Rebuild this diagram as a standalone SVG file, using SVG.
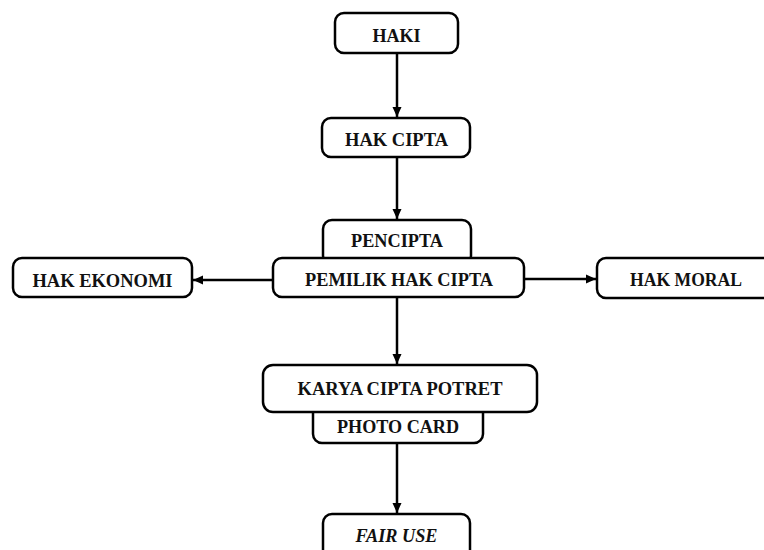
<svg xmlns="http://www.w3.org/2000/svg" width="764" height="550" viewBox="0 0 764 550">
<style>
.box{fill:#fff;stroke:#000;stroke-width:2.5}
.t{font-family:'Liberation Serif',Tinos,'Times New Roman','Noto Serif','DejaVu Serif',serif;font-weight:bold;font-size:18px;text-anchor:middle;fill:#111}
.i{font-style:italic}
.c{stroke:#000;stroke-width:2.5;fill:none}
</style>
<defs>
<marker id="ah" markerUnits="userSpaceOnUse" markerWidth="10" markerHeight="10" viewBox="0 0 10 10" refX="10" refY="5" orient="auto">
<path d="M0,0.5 L10,5 L0,9.5 z" fill="#000"/>
</marker>
</defs>
<rect width="764" height="550" fill="#fff"/>
<g id="connectors">
<line class="c" x1="397" y1="53" x2="397" y2="117" marker-end="url(#ah)"/>
<line class="c" x1="397" y1="157" x2="397" y2="219" marker-end="url(#ah)"/>
<line class="c" x1="397" y1="297" x2="397" y2="364" marker-end="url(#ah)"/>
<line class="c" x1="397" y1="443" x2="397" y2="513" marker-end="url(#ah)"/>
<line class="c" x1="273" y1="280" x2="193" y2="280" marker-end="url(#ah)"/>
<line class="c" x1="524" y1="279" x2="596" y2="279" marker-end="url(#ah)"/>
</g>
<g id="haki">
<rect class="box" x="335" y="13" width="123" height="40" rx="9"/>
<text class="t" x="396.5" y="42" textLength="48" lengthAdjust="spacingAndGlyphs">HAKI</text>
</g>
<g id="hak-cipta">
<rect class="box" x="322" y="118" width="148" height="39" rx="9"/>
<text class="t" x="396.5" y="146" textLength="103" lengthAdjust="spacingAndGlyphs">HAK CIPTA</text>
</g>
<g id="pencipta">
<rect class="box" x="323" y="220" width="148" height="45" rx="9"/>
<text class="t" x="397" y="247" textLength="92" lengthAdjust="spacingAndGlyphs">PENCIPTA</text>
</g>
<g id="pemilik">
<rect class="box" x="273" y="258" width="251" height="39" rx="9"/>
<text class="t" x="399" y="286" textLength="188" lengthAdjust="spacingAndGlyphs">PEMILIK HAK CIPTA</text>
</g>
<g id="hak-ekonomi">
<rect class="box" x="13" y="258" width="179" height="39" rx="9"/>
<text class="t" x="102.5" y="287" textLength="140" lengthAdjust="spacingAndGlyphs">HAK EKONOMI</text>
</g>
<g id="hak-moral">
<rect class="box" x="597" y="258" width="180" height="40" rx="9"/>
<text class="t" x="686" y="286" textLength="112" lengthAdjust="spacingAndGlyphs">HAK MORAL</text>
</g>
<g id="photo-card">
<rect class="box" x="313" y="403" width="170" height="40" rx="9"/>
<text class="t" x="398" y="433" textLength="122" lengthAdjust="spacingAndGlyphs">PHOTO CARD</text>
</g>
<g id="karya">
<rect class="box" x="263" y="365" width="274" height="47" rx="10"/>
<text class="t" x="400" y="395" textLength="205" lengthAdjust="spacingAndGlyphs">KARYA CIPTA POTRET</text>
</g>
<g id="fair-use">
<rect class="box" x="323" y="514" width="147" height="45" rx="9"/>
<text class="t i" x="396.5" y="542" textLength="82" lengthAdjust="spacingAndGlyphs">FAIR USE</text>
</g>
</svg>
